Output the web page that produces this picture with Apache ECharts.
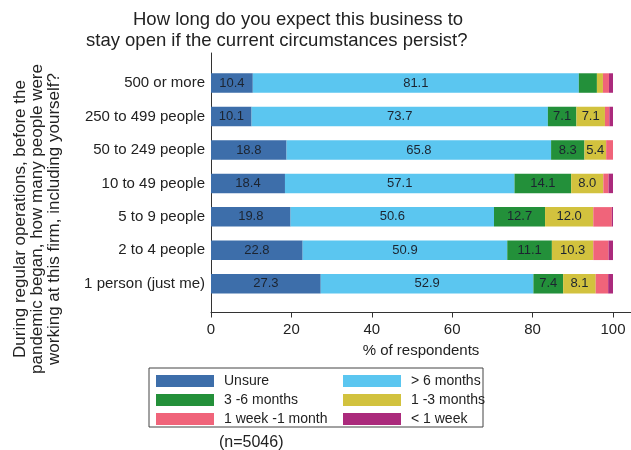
<!DOCTYPE html>
<html><head><meta charset="utf-8">
<script src="https://cdn.jsdelivr.net/npm/echarts@6/dist/echarts.min.js"></script>
<style>html,body{margin:0;padding:0;background:#fff}#c{width:631px;height:450px}</style>
</head><body><div id="c"></div>
<script>
var categories = ['500 or more','250 to 499 people','50 to 249 people','10 to 49 people','5 to 9 people','2 to 4 people','1 person (just me)'];
var unsure   = [10.4, 10.1, 18.8, 18.4, 19.8, 22.8, 27.3];
var over6m   = [81.1, 73.7, 65.8, 57.1, 50.6, 50.9, 52.9];
var m3to6    = [4.5, 7.1, 8.3, 14.1, 12.7, 11.1, 7.4];
var m1to3    = [1.5, 7.1, 5.4, 8.0, 12.0, 10.3, 8.1];
var w1to1m   = [1.5, 1.1, 1.7, 1.3, 4.6, 3.8, 3.1];
var lt1w     = [1.0, 0.9, 0.0, 1.1, 0.3, 1.1, 1.2];
var xTicks = [0, 20, 40, 60, 80, 100];
var seriesNames = ['Unsure','> 6 months','3 -6 months','1 -3 months','1 week -1 month','< 1 week'];
var seriesData = [unsure, over6m, m3to6, m1to3, w1to1m, lt1w];
var colors = ['#3d6eaa','#5bc6f0','#23903a','#d2c23e','#f0647a','#ab2a7c'];

var FONT = '"Liberation Sans", Arial, sans-serif';
var XMAX = 104.48;

var series = seriesNames.map(function(n, i){
  return {
    name: n, type: 'bar', stack: 'total', xAxisIndex: 1, yAxisIndex: 1,
    barWidth: 19.5,
    itemStyle: {color: colors[i]},
    label: {
      show: true, position: 'inside', fontFamily: FONT, fontSize: 13, color: '#1c2430',
      formatter: function(p){ return p.value >= 5 ? p.value.toFixed(1) : ''; }
    },
    data: seriesData[i]
  };
});

var chart = echarts.init(document.getElementById('c'), null, {renderer: 'canvas'});
chart.setOption({
  animation: false,
  backgroundColor: '#ffffff',
  textStyle: {fontFamily: FONT},
  title: [
    {text: 'How long do you expect this business to', left: 128, top: 5,
     textStyle: {fontFamily: FONT, fontSize: 18.5, fontWeight: 'normal', color: '#222'}},
    {text: 'stay open if the current circumstances persist?', left: 81, top: 26,
     textStyle: {fontFamily: FONT, fontSize: 18.5, fontWeight: 'normal', color: '#222'}},
    {text: '(n=5046)', left: 214, top: 430,
     textStyle: {fontFamily: FONT, fontSize: 16, fontWeight: 'normal', color: '#222'}}
  ],
  legend: [
    {data: ['Unsure','3 -6 months','1 week -1 month'], orient: 'vertical', left: 151, top: 369,
     itemWidth: 58, itemHeight: 12, itemGap: 5, padding: 5, icon: 'rect',
     textStyle: {fontFamily: FONT, fontSize: 14, color: '#222', padding: [0,0,0,5]}},
    {data: ['> 6 months','1 -3 months','< 1 week'], orient: 'vertical', left: 338, top: 369,
     itemWidth: 58, itemHeight: 12, itemGap: 5, padding: 5, icon: 'rect',
     textStyle: {fontFamily: FONT, fontSize: 14, color: '#222', padding: [0,0,0,5]}}
  ],
  graphic: [
    {type: 'rect', shape: {x: 149, y: 368, width: 334, height: 59},
     style: {fill: 'none', stroke: '#444', lineWidth: 1}, silent: true},
    {type: 'text', x: 37, y: 219, rotation: Math.PI/2,
     style: {text: 'During regular operations, before the\npandemic began, how many people were\nworking at this firm, including yourself?',
             font: '17px ' + FONT, fill: '#222', align: 'center', verticalAlign: 'middle', lineHeight: 17}}
  ],
  grid: [
    {left: 211, top: 53, right: 0, bottom: 137.5},
    {left: 211, top: 66.3, right: 0, bottom: 149.5}
  ],
  xAxis: [
    {type: 'value', gridIndex: 0, min: 0, max: XMAX, interval: 20,
     axisLine: {show: true, lineStyle: {color: '#333', width: 1}},
     axisTick: {show: true, length: 5, lineStyle: {color: '#333'},
       customValues: xTicks},
     axisLabel: {fontFamily: FONT, fontSize: 15, color: '#222', margin: 10,
       customValues: xTicks},
     splitLine: {show: false},
     name: '% of respondents', nameLocation: 'middle', nameGap: 31,
     nameTextStyle: {fontFamily: FONT, fontSize: 15, color: '#222'}},
    {type: 'value', gridIndex: 1, min: 0, max: XMAX, show: false, splitLine: {show: false}}
  ],
  yAxis: [
    {type: 'value', gridIndex: 0, min: 0, max: 1,
     axisLine: {show: true, lineStyle: {color: '#333', width: 1}},
     axisTick: {show: false}, axisLabel: {show: false}, splitLine: {show: false}},
    {type: 'category', gridIndex: 1, inverse: true, data: categories,
     axisLine: {show: false}, axisTick: {show: false},
     axisLabel: {fontFamily: FONT, fontSize: 15, color: '#222', margin: 6}}
  ],
  series: series
});
</script></body></html>
